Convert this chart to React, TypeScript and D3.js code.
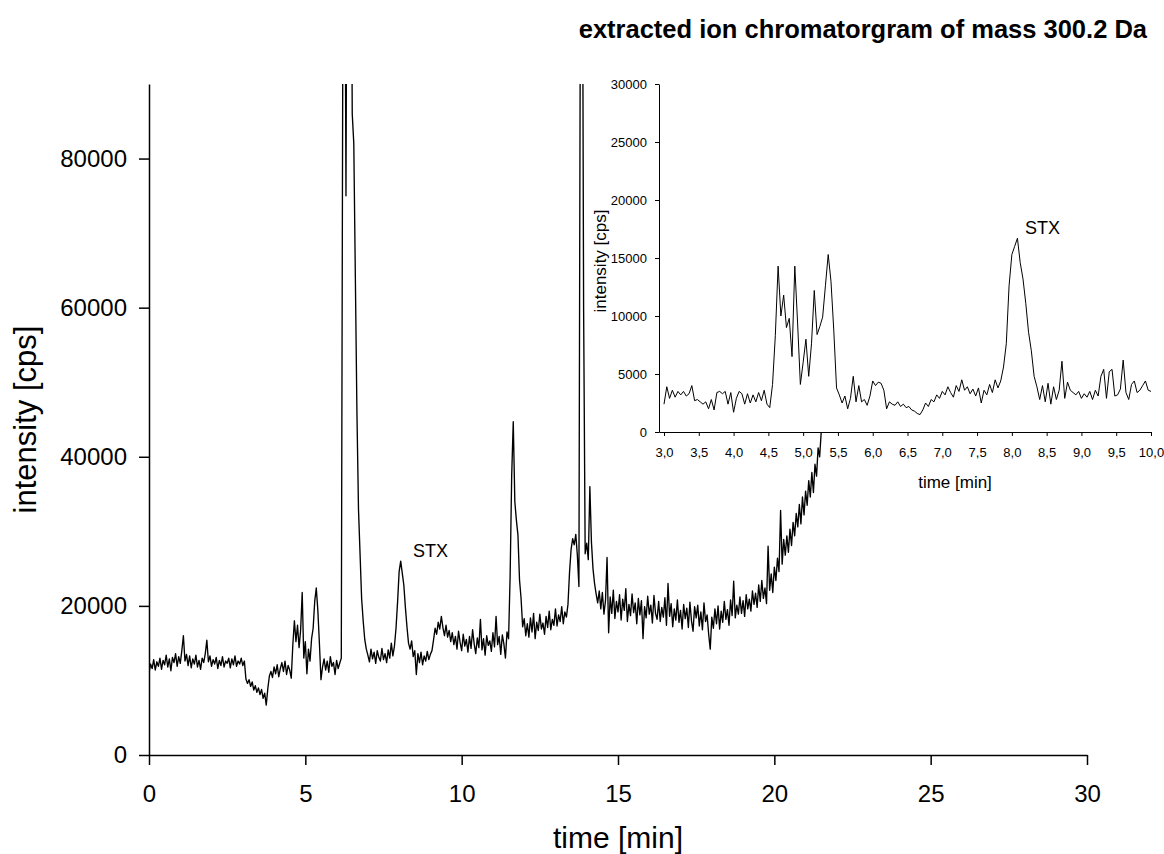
import React, { useEffect, useRef } from 'react';
import * as d3 from 'd3';

// Main chromatogram: intensity in thousand cps, sampled every 0.05 min from 0 min.
// One row per minute.
const MAIN_T0 = 0;
const MAIN_DT = 0.05;
const mainIntensityK: number[] = [
  11.0, 12.2, 11.6, 12.8, 11.4, 12.5, 11.9, 13.0, 11.5, 12.7, 12.1, 13.4, 11.8, 12.9, 11.3, 13.1, 12.4, 13.6, 11.9, 13.2,
  12.3, 14.0, 16.0, 12.6, 13.5, 12.0, 13.3, 11.7, 12.9, 12.2, 13.4, 11.8, 12.7, 11.5, 13.0, 12.4, 13.6, 15.4, 12.5, 13.3,
  11.9, 12.8, 12.2, 13.1, 11.6, 12.7, 12.0, 13.2, 11.8, 12.6, 12.3, 13.0, 11.7, 12.9, 12.1, 13.3, 11.9, 12.6, 12.2, 13.0,
  12.0, 12.6, 10.2, 9.6, 10.1, 9.2, 9.8, 8.7, 9.3, 8.4, 9.0, 8.1, 8.8, 7.6, 8.3, 6.7, 8.9, 10.6, 11.2, 10.4,
  11.8, 10.9, 12.1, 10.5, 11.6, 12.4, 11.2, 12.6, 10.8, 12.0, 11.4, 10.3, 14.8, 18.0, 15.2, 17.4, 14.4, 16.8, 21.8, 13.0,
  15.2, 10.9, 14.2, 12.6, 15.6, 17.0, 20.6, 22.4, 19.4, 15.0, 10.1, 11.8, 12.9, 11.4, 12.6, 11.1, 13.2, 11.9, 12.4, 10.8,
  12.7, 11.6, 12.3, 13.0, 98, 130, 75, 140, 150, 130, 86, 82, 64, 46, 33, 27, 21, 18, 15.5, 14.2,
  13.4, 12.5, 14.2, 12.9, 13.8, 12.3, 14.0, 13.1, 12.6, 14.3, 12.8, 13.6, 12.4, 14.1, 13.0, 15.0, 13.3, 14.6, 17.0, 20.5,
  24.6, 26.0, 24.4, 22.8, 19.8, 17.2, 15.0, 14.2, 15.3, 13.2, 14.0, 10.8, 13.6, 12.4, 13.8, 12.1, 13.3, 12.6, 13.9, 12.8,
  13.5, 14.0, 15.4, 17.0, 16.2, 17.8, 16.9, 18.6, 17.1, 16.0, 17.4, 15.8, 16.7, 15.2, 16.4, 14.8, 15.9, 14.2, 16.6, 15.1,
  14.0, 16.2, 14.6, 15.5, 13.8, 15.9, 14.3, 16.8, 14.9, 13.6, 15.7, 14.4, 18.2, 14.1, 15.6, 13.4, 16.0, 14.7, 15.3, 13.9,
  16.4, 14.5, 18.6, 14.8, 15.9, 13.5, 16.1, 14.9, 13.0, 16.5, 15.6, 24.0, 37.5, 44.7, 34.0, 31.5, 29.5, 23.5, 21.0, 17.2,
  18.3, 16.0, 17.6, 15.8, 18.4, 16.5, 19.0, 15.6, 17.8, 16.7, 18.9, 16.9, 17.7, 16.2, 18.6, 17.1, 19.3, 16.8, 18.2, 17.4,
  19.6, 17.3, 18.8, 17.9, 19.9, 17.6, 19.2, 18.5, 20.2, 24.5, 27.6, 29.0, 28.2, 29.6, 26.8, 22.6, 110, 130, 60, 27.0,
  28.4, 26.2, 36.0, 28.6, 25.0, 23.0, 21.6, 20.4, 22.0, 19.6, 21.8, 18.9, 20.7, 26.5, 16.4, 21.2, 19.0, 22.1, 18.3, 20.6,
  19.2, 21.5, 18.1, 20.9, 19.4, 22.3, 17.9, 20.2, 18.7, 21.6, 19.1, 20.4, 17.6, 21.0, 18.8, 20.7, 15.6, 19.9, 18.4, 21.3,
  18.9, 20.1, 17.7, 21.4, 19.0, 18.2, 20.6, 17.9, 19.8, 18.5, 21.1, 17.4, 23.0, 18.6, 20.3, 17.2, 19.6, 18.1, 20.8, 17.8,
  19.4, 16.9, 20.2, 18.3, 19.7, 17.1, 20.5, 18.0, 16.6, 19.9, 18.4, 20.1, 17.3, 19.2, 16.8, 20.4, 17.9, 18.8, 16.2, 14.2,
  18.5, 17.0, 19.6, 17.6, 20.0, 16.9, 19.3, 17.8, 20.6, 18.2, 19.5, 17.4, 20.8, 18.7, 23.3, 18.4, 20.1, 18.9, 21.2, 19.0,
  20.7, 18.6, 21.5, 19.6, 20.9, 19.3, 22.0, 20.2, 21.7, 19.8, 22.8, 20.6, 23.4, 21.0, 22.4, 20.3, 28.0, 22.1, 24.3, 21.8,
  25.2, 23.4, 26.4, 24.6, 32.8, 25.6, 28.9, 26.8, 29.4, 27.2, 30.3, 28.1, 31.2, 29.4, 32.4, 30.6, 33.6, 31.0, 34.6, 32.2,
  35.4, 33.5, 36.8, 34.6, 37.9, 35.2, 39.0, 37.4, 41.2, 40.0, 43.4, 45.0,
];

// Inset: intensity in thousand cps, sampled every 0.04 min from 3.0 min. One row per minute.
const INSET_T0 = 3;
const INSET_DT = 0.04;
const insetIntensityK: number[] = [
  2.4, 3.9, 2.9, 3.6, 3.0, 3.5, 3.2, 3.5, 3.1, 3.3, 4.0, 2.7, 2.8, 2.6, 2.4, 2.6, 2.0, 2.8, 1.9, 3.4, 3.5, 3.3, 3.5, 2.4, 3.4,
  1.7, 2.9, 3.5, 3.3, 2.4, 3.3, 2.5, 3.2, 2.6, 3.4, 2.7, 3.6, 2.4, 2.1, 4.1, 8.3, 14.3, 10.0, 11.8, 9.0, 9.8, 6.5, 14.3, 9.4, 4.1,
  6.0, 8.0, 4.8, 7.6, 12.2, 8.4, 9.1, 9.9, 12.6, 15.3, 13.0, 8.8, 3.8, 3.2, 2.5, 3.1, 2.0, 2.9, 4.8, 2.6, 4.0, 2.6, 2.8, 2.3, 3.1,
  4.4, 4.0, 4.3, 4.2, 3.6, 2.0, 2.6, 2.4, 2.3, 2.6, 2.2, 2.4, 2.1, 2.2, 1.9, 1.8, 1.6, 1.5, 1.9, 2.5, 2.2, 2.8, 2.6, 3.2, 2.9,
  3.5, 3.2, 3.9, 3.4, 3.0, 4.0, 3.5, 4.5, 3.6, 3.9, 3.3, 3.7, 3.1, 3.8, 2.5, 3.6, 3.2, 4.1, 3.4, 4.5, 3.8, 4.4, 5.6, 7.6, 12.6,
  15.3, 16.0, 16.7, 14.6, 13.2, 11.1, 8.6, 7.0, 4.8, 3.9, 2.8, 4.0, 2.6, 4.2, 2.4, 3.9, 2.8, 3.6, 6.1, 2.9, 4.3, 3.6, 3.4, 3.2, 3.5,
  2.9, 3.3, 3.0, 3.5, 2.8, 3.6, 3.1, 4.8, 5.4, 2.9, 5.2, 5.4, 3.1, 3.2, 3.7, 6.2, 3.4, 2.8, 4.1, 4.4, 3.4, 3.6, 4.0, 4.4, 3.6,
  3.5,
];

const mainXTicks = [0, 5, 10, 15, 20, 25, 30];
const mainYTicks = [0, 20000, 40000, 60000, 80000];
const insetXTicks = [3, 3.5, 4, 4.5, 5, 5.5, 6, 6.5, 7, 7.5, 8, 8.5, 9, 9.5, 10];
const insetYTicks = [0, 5000, 10000, 15000, 20000, 25000, 30000];

const titleText = 'extracted ion chromatorgram of mass 300.2 Da';
const xTitle = 'time [min]';
const yTitle = 'intensity [cps]';
const peakLabel = 'STX';
// annotation anchors (data coordinates: min, cps)
const mainPeakLabelAt = [8.44, 26600];
const insetPeakLabelAt = [8.19, 17050];

const FONT = '"Liberation Sans", Arial, Helvetica, sans-serif';

type Pt = { t: number; v: number };

export default function App() {
  const ref = useRef<SVGSVGElement | null>(null);

  useEffect(() => {
    const svg = d3.select(ref.current as SVGSVGElement);
    svg.selectAll('*').remove();
    const W = 1164;
    const H = 854;
    svg.append('rect').attr('width', W).attr('height', H).attr('fill', '#fff');

    // ---------- main chart ----------
    const x = d3.scaleLinear().domain([0, 30]).range([149, 1087]);
    const y = d3.scaleLinear().domain([0, 90000]).range([755, 84]);

    const mainData: Pt[] = mainIntensityK.map((v, i) => ({ t: MAIN_T0 + i * MAIN_DT, v: v * 1000 }));
    const defs = svg.append('defs');
    defs
      .append('clipPath')
      .attr('id', 'mainClip')
      .append('rect')
      .attr('x', x(0))
      .attr('y', y(90000))
      .attr('width', x(30) - x(0))
      .attr('height', y(0) - y(90000));

    const mainLine = d3
      .line<Pt>()
      .x((d) => x(d.t))
      .y((d) => y(d.v));
    svg
      .append('path')
      .datum(mainData)
      .attr('d', mainLine)
      .attr('fill', 'none')
      .attr('stroke', '#000')
      .attr('stroke-width', 1.35)
      .attr('stroke-linejoin', 'round')
      .attr('clip-path', 'url(#mainClip)');

    const gx = svg
      .append('g')
      .attr('transform', `translate(0,${y(0)})`)
      .call(
        d3
          .axisBottom(x)
          .tickValues(mainXTicks)
          .tickSize(10)
          .tickSizeOuter(0)
          .tickPadding(20)
          .tickFormat(d3.format('d') as any)
      );
    const gy = svg
      .append('g')
      .attr('transform', `translate(${x(0)},0)`)
      .call(
        d3
          .axisLeft(y)
          .tickValues(mainYTicks)
          .tickSize(10)
          .tickSizeOuter(0)
          .tickPadding(12)
          .tickFormat(d3.format('d') as any)
      );
    [gx, gy].forEach((g) => {
      g.attr('font-family', FONT).attr('font-size', 24);
      g.selectAll('path, line').attr('stroke', '#000').attr('stroke-width', 1.5);
      g.selectAll('text').attr('fill', '#000');
    });

    svg
      .append('text')
      .attr('x', (x(0) + x(30)) / 2)
      .attr('y', 848)
      .attr('text-anchor', 'middle')
      .attr('font-family', FONT)
      .attr('font-size', 30)
      .text(xTitle);
    svg
      .append('text')
      .attr('transform', `translate(36,${(y(0) + y(90000)) / 2}) rotate(-90)`)
      .attr('text-anchor', 'middle')
      .attr('font-family', FONT)
      .attr('font-size', 31)
      .text(yTitle);

    svg
      .append('text')
      .attr('x', x(mainPeakLabelAt[0]))
      .attr('y', y(mainPeakLabelAt[1]))
      .attr('font-family', FONT)
      .attr('font-size', 18)
      .text(peakLabel);

    // ---------- inset ----------
    const ix = d3.scaleLinear().domain([2.928, 10]).range([659, 1151]);
    const iy = d3.scaleLinear().domain([0, 30000]).range([432, 84]);

    svg
      .append('rect')
      .attr('x', ix(2.928))
      .attr('y', 76)
      .attr('width', W - ix(2.928))
      .attr('height', iy(0) - 76)
      .attr('fill', '#fff');

    const insetData: Pt[] = insetIntensityK.map((v, i) => ({ t: INSET_T0 + i * INSET_DT, v: v * 1000 }));
    const insetLine = d3
      .line<Pt>()
      .x((d) => ix(d.t))
      .y((d) => iy(d.v));
    svg
      .append('path')
      .datum(insetData)
      .attr('d', insetLine)
      .attr('fill', 'none')
      .attr('stroke', '#000')
      .attr('stroke-width', 1)
      .attr('stroke-linejoin', 'round');

    const igx = svg
      .append('g')
      .attr('transform', `translate(0,${iy(0)})`)
      .call(
        d3
          .axisBottom(ix)
          .tickValues(insetXTicks)
          .tickSize(4)
          .tickSizeOuter(0)
          .tickPadding(12)
          .tickFormat(((d: number) => d3.format('.1f')(d).replace('.', ',')) as any)
      );
    const igy = svg
      .append('g')
      .attr('transform', `translate(${ix(2.928)},0)`)
      .call(
        d3
          .axisLeft(iy)
          .tickValues(insetYTicks)
          .tickSize(4)
          .tickSizeOuter(0)
          .tickPadding(8)
          .tickFormat(d3.format('d') as any)
      );
    [igx, igy].forEach((g) => {
      g.attr('font-family', FONT).attr('font-size', 13);
      g.selectAll('path, line').attr('stroke', '#000').attr('stroke-width', 1);
      g.selectAll('text').attr('fill', '#000');
    });

    svg
      .append('text')
      .attr('x', 955)
      .attr('y', 488)
      .attr('text-anchor', 'middle')
      .attr('font-family', FONT)
      .attr('font-size', 17)
      .text(xTitle);
    svg
      .append('text')
      .attr('transform', `translate(606,${(iy(0) + iy(30000)) / 2 + 3}) rotate(-90)`)
      .attr('text-anchor', 'middle')
      .attr('font-family', FONT)
      .attr('font-size', 17)
      .text(yTitle);
    svg
      .append('text')
      .attr('x', ix(insetPeakLabelAt[0]))
      .attr('y', iy(insetPeakLabelAt[1]))
      .attr('font-family', FONT)
      .attr('font-size', 18)
      .text(peakLabel);

    // ---------- title ----------
    svg
      .append('text')
      .attr('x', 1147)
      .attr('y', 38)
      .attr('text-anchor', 'end')
      .attr('font-family', FONT)
      .attr('font-weight', 'bold')
      .attr('font-size', 25.5)
      .text(titleText);
  }, []);

  return (
    <svg
      ref={ref}
      width={1164}
      height={854}
      style={{ position: 'absolute', left: 0, top: 0, display: 'block' }}
    />
  );
}
